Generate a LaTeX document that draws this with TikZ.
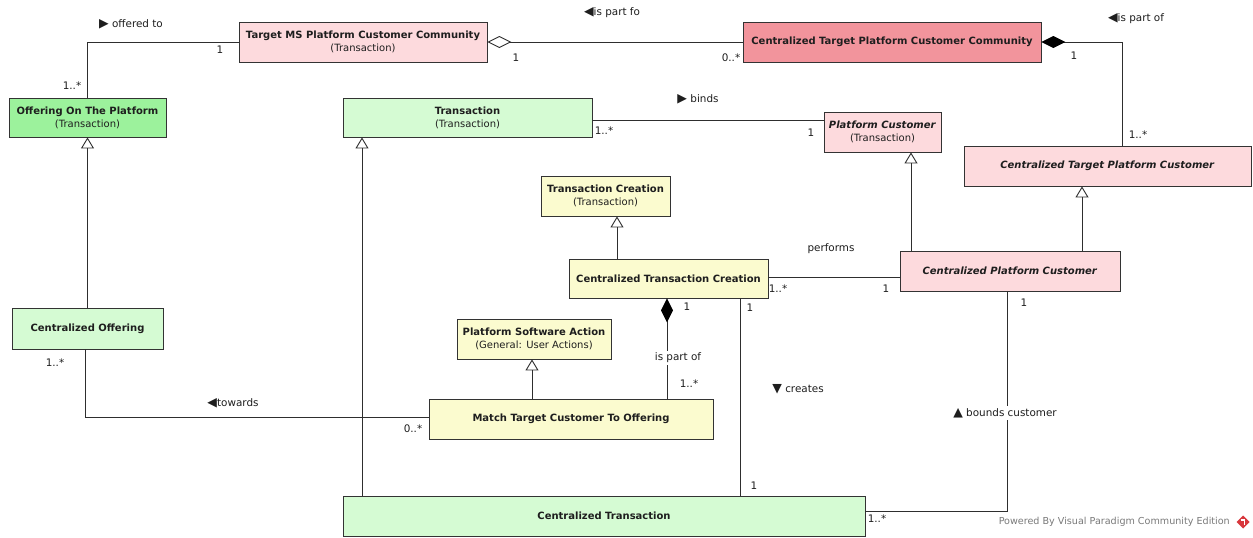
\documentclass[tikz,border=0pt]{standalone}
\usepackage{fontspec}
\setmainfont{DejaVu Sans}
\usetikzlibrary{arrows.meta,calc}

\definecolor{boxborder}{HTML}{333333}
\definecolor{linegray}{HTML}{2E2E2E}
\definecolor{textdark}{HTML}{1E1E1E}
\definecolor{pinklight}{HTML}{FDDADD}
\definecolor{pinkdark}{HTML}{F2949C}
\definecolor{greenbright}{HTML}{9CF29C}
\definecolor{greenlight}{HTML}{D5FBD3}
\definecolor{yellowlight}{HTML}{FBFBCF}
\definecolor{footgray}{HTML}{7A7A7A}
\definecolor{vpred}{HTML}{D8373C}

% direction marks of association names
\newcommand{\dirmark}[1]{{\fontsize{12.5}{12}\selectfont #1}}

\begin{document}
\begin{tikzpicture}[x=1pt,y=-1pt,
  box/.style={draw=boxborder, line width=0.9pt, inner sep=0pt, align=center,
    text=textdark, font=\fontsize{10}{13}\selectfont},
  conn/.style={draw=linegray, line width=0.9pt},
  gen/.style={conn, -{Triangle[open, length=11pt, width=13pt, line width=0.9pt]}},
  agg/.style={conn, {Diamond[open, length=24pt, width=12pt, line width=0.9pt]}-},
  comp/.style={conn, {Diamond[length=24pt, width=12pt, color=black]}-},
  lbl/.style={inner sep=0pt, text=textdark, font=\fontsize{10.4}{12}\selectfont},
  lblbg/.style={lbl, fill=white, inner sep=2pt}
]
\useasboundingbox[fill=white] (0,0) rectangle (1253,538);

% ---------- classes ----------
\node[box, fill=pinklight, minimum width=248pt, minimum height=40pt] (tms) at (363,42)
  {\textbf{Target MS Platform Customer Community}\\(Transaction)};
\node[box, fill=pinkdark, minimum width=298pt, minimum height=40pt] (ctpcc) at (892,42)
  {\textbf{Centralized Target Platform Customer Community}};
\node[box, fill=greenbright, minimum width=157pt, minimum height=39pt] (offer) at (87.5,117.5)
  {\textbf{Offering On The Platform}\\(Transaction)};
\node[box, fill=greenlight, minimum width=249pt, minimum height=39pt] (trans) at (467.5,117.5)
  {\textbf{Transaction}\\(Transaction)};
\node[box, fill=pinklight, minimum width=117pt, minimum height=40pt] (pc) at (882.5,132)
  {\textbf{\textit{Platform Customer}}\\(Transaction)};
\node[box, fill=pinklight, minimum width=287pt, minimum height=40pt] (ctpc) at (1107.5,166)
  {\textbf{\textit{Centralized Target Platform Customer}}};
\node[box, fill=yellowlight, minimum width=129pt, minimum height=40pt] (tc) at (605.5,196)
  {\textbf{Transaction Creation}\\(Transaction)};
\node[box, fill=yellowlight, minimum width=199pt, minimum height=39pt] (ctc) at (668.5,278.5)
  {\textbf{Centralized Transaction Creation}};
\node[box, fill=pinklight, minimum width=220pt, minimum height=40pt] (cpc) at (1010,271)
  {\textbf{\textit{Centralized Platform Customer}}};
\node[box, fill=yellowlight, minimum width=154pt, minimum height=40pt] (psa) at (534,339)
  {\textbf{Platform Software Action}\\(General: User Actions)};
\node[box, fill=yellowlight, minimum width=284pt, minimum height=40pt] (mtc) at (571,419)
  {\textbf{Match Target Customer To Offering}};
\node[box, fill=greenlight, minimum width=151pt, minimum height=41pt] (co) at (87.5,328.5)
  {\textbf{Centralized Offering}};
\node[box, fill=greenlight, minimum width=522pt, minimum height=40pt] (ct) at (604,516)
  {\textbf{Centralized Transaction}};

% ---------- generalizations ----------
\draw[gen] (co.north) -- (co.north |- offer.south);
\coordinate (g1) at ([xshift=-242pt]ct.north);
\draw[gen] (g1) -- (g1 |- trans.south);
\coordinate (g2) at ([xshift=-51.5pt]ctc.north);
\draw[gen] (g2) -- (g2 |- tc.south);
\coordinate (g3) at ([xshift=-2pt]psa.south);
\draw[gen] (g3 |- mtc.north) -- (g3);
\coordinate (g4) at ([xshift=28.5pt]pc.south);
\draw[gen] (g4 |- cpc.north) -- (g4);
\coordinate (g5) at ([xshift=-25.5pt]ctpc.south);
\draw[gen] (g5 |- cpc.north) -- (g5);

% ---------- associations ----------
% offered to
\draw[conn] (tms.west) -| (offer.north);
\node[lbl] (l1) at (131,24) {\dirmark{▶} offered to};
\node[lbl] (m1a) at (220,50) {1};
\node[lbl] (m1b) at (72,86) {1..*};

% is part fo (aggregation)
\draw[agg] (tms.east) -- (ctpcc.west);
\node[lbl] (l2) at (612,13) {\dirmark{◀}is part fo};
\node[lbl] (m2a) at (516,58) {1};
\node[lbl] (m2b) at (731,58) {0..*};

% is part of (composition, top right)
\coordinate (c3) at ([xshift=14.5pt]ctpc.north);
\draw[comp] (ctpcc.east) -| (c3);
\node[lbl] (l3) at (1136,19) {\dirmark{◀}is part of};
\node[lbl] (m3a) at (1074,56) {1};
\node[lbl] (m3b) at (1138,135) {1..*};

% binds
\coordinate (c4) at ([yshift=-2.5pt]trans.east);
\draw[conn] (c4) -- (c4 -| pc.west);
\node[lbl] (l4) at (698,99) {\dirmark{▶} binds};
\node[lbl] (m4a) at (604,131) {1..*};
\node[lbl] (m4b) at (811,133) {1};

% performs
\coordinate (c5) at ([yshift=1.5pt]ctc.east);
\draw[conn] (c5) -- (c5 -| cpc.west);
\node[lbl] (l5) at (831,249) {performs};
\node[lbl] (m5a) at (778,289) {1..*};
\node[lbl] (m5b) at (886,289) {1};

% is part of (composition, middle)
\coordinate (c6) at ([xshift=-1.5pt]ctc.south);
\draw[comp] (c6) -- (c6 |- mtc.north);
\node[lblbg] (l6) at (678,358) {is part of};
\node[lbl] (m6a) at (687,307) {1};
\node[lbl] (m6b) at (689,384) {1..*};

% creates
\coordinate (c7) at ([xshift=71.5pt]ctc.south);
\draw[conn] (c7) -- (c7 |- ct.north);
\node[lbl] (l7) at (798,389) {\dirmark{▼} creates};
\node[lbl] (m7a) at (750,308) {1};
\node[lbl] (m7b) at (754,486) {1};

% bounds customer
\coordinate (c8) at ([xshift=-3pt]cpc.south);
\coordinate (c8e) at ([yshift=4.5pt]ct.east);
\draw[conn] (c8) |- (c8e);
\node[lblbg] (l8) at (1005,413) {\dirmark{▲} bounds customer};
\node[lbl] (m8a) at (1024,303) {1};
\node[lbl] (m8b) at (877,519) {1..*};

% towards
\coordinate (c9) at ([xshift=-2.5pt]co.south);
\coordinate (c9e) at ([yshift=2pt]mtc.west);
\draw[conn] (c9) |- (c9e);
\node[lbl] (l9) at (233,403) {\dirmark{◀}towards};
\node[lbl] (m9a) at (55,363) {1..*};
\node[lbl] (m9b) at (413,429) {0..*};

% ---------- footer ----------
\node[lbl, text=footgray, font=\fontsize{9.6}{10}\selectfont, anchor=east] (foot) at (1230,522)
  {Powered By Visual Paradigm Community Edition};
\fill[vpred] (1243,515.5) -- (1249.5,522) -- (1243,528.5) -- (1236.5,522) -- cycle;
\draw[white, line width=1.3pt] (1240.5,520) -- (1244.5,520) -- (1244.5,524.5);
\end{tikzpicture}
\end{document}
